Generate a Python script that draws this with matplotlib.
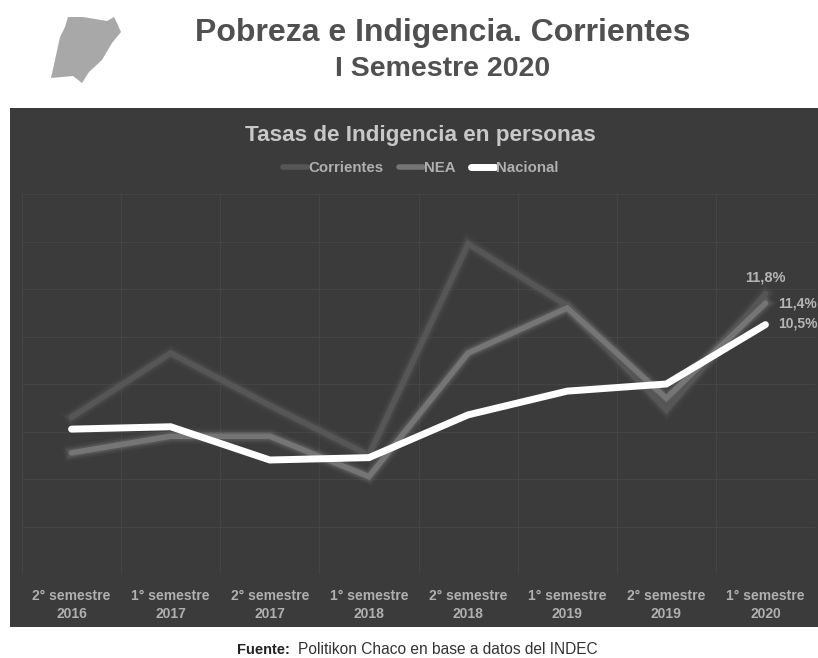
import matplotlib
matplotlib.use('Agg')
import matplotlib.pyplot as plt

plt.rcParams['font.family'] = ['Liberation Sans', 'DejaVu Sans']

W, H = 818, 658

categories = ['2° semestre\n2016', '1° semestre\n2017', '2° semestre\n2017', '1° semestre\n2018',
              '2° semestre\n2018', '1° semestre\n2019', '2° semestre\n2019', '1° semestre\n2020']
corrientes = [6.6, 9.3, 7.1, 5.0, 13.9, 11.3, 6.9, 11.8]
nea = [5.1, 5.8, 5.8, 4.1, 9.3, 11.2, 7.4, 11.4]
nacional = [6.1, 6.2, 4.8, 4.9, 6.7, 7.7, 8.0, 10.5]
y_ticks = [0, 2, 4, 6, 8, 10, 12, 14, 16]


def px_axes(fig, x0, y0, x1, y1):
    # pixel box, y measured from the top
    return fig.add_axes([x0 / W, 1 - y1 / H, (x1 - x0) / W, (y1 - y0) / H])


fig = plt.figure(figsize=(W / 100, H / 100), dpi=100, facecolor='white')

# panel oscuro
panel = px_axes(fig, 10, 108, 818, 627)
panel.set_facecolor('#3b3b3b')
panel.set_xticks([])
panel.set_yticks([])
for s in panel.spines.values():
    s.set_visible(False)

# silueta de la provincia
mapa = px_axes(fig, 0, 0, W, H)
mapa.set_xlim(0, W)
mapa.set_ylim(H, 0)
mapa.axis('off')
mapa.fill([68, 83, 107, 114, 117, 121, 112, 102, 89, 82, 73, 51, 55, 60, 65],
          [17, 17, 21, 17, 23, 32, 43, 60, 72, 83, 76, 78, 60, 37, 27],
          color='#a8a8a8', lw=0)

# grafico
ax = px_axes(fig, 22, 194, 815, 574)
ax.patch.set_alpha(0)
ax.set_xlim(-0.5, 7.5)
ax.set_ylim(0, 16)
x = list(range(len(categories)))

ax.set_yticks(y_ticks)
ax.set_xticks([i - 0.5 for i in x] + [7.5])
ax.grid(True, color='#444444', lw=0.8)
ax.set_axisbelow(True)
ax.tick_params(length=0, labelleft=False, labelbottom=False)
for s in ax.spines.values():
    s.set_visible(False)

# glow
for vals, col in [(corrientes, '#5a5a5a'), (nea, '#787878')]:
    for extra, a in [(7, 0.10), (4, 0.18), (2, 0.25)]:
        ax.plot(x, vals, color=col, lw=4 + extra, alpha=a, solid_joinstyle='miter')
for vals, col, lw, name in [(corrientes, '#565656', 4, 'Corrientes'), (nea, '#757575', 4, 'NEA'),
                            (nacional, 'white', 5, 'Nacional')]:
    ax.plot(x, vals, color=col, lw=lw, label=name, solid_joinstyle='miter', solid_capstyle='round')

for i, c in enumerate(categories):
    ax.text(i, -0.62, c, ha='center', va='top', color='#b0b0b0', fontsize=10,
            fontweight='bold', linespacing=1.38, clip_on=False)

ax.annotate('11,8%', (7, corrientes[7]), xytext=(0, 7), textcoords='offset points', ha='center',
            va='bottom', color='#b5b5b5', fontsize=10.5, fontweight='bold')
ax.annotate('11,4%', (7, nea[7]), xytext=(9, 0), textcoords='offset points', ha='left',
            va='center', color='#b5b5b5', fontsize=10, fontweight='bold', annotation_clip=False)
ax.annotate('10,5%', (7, nacional[7]), xytext=(9, 1), textcoords='offset points', ha='left',
            va='center', color='#b5b5b5', fontsize=10, fontweight='bold', annotation_clip=False)

leg = ax.legend(loc='center', bbox_to_anchor=(421 / W, 1 - 168 / H), bbox_transform=fig.transFigure,
                ncol=3, frameon=False, fontsize=10.8, handlelength=1.6, handletextpad=0.1,
                columnspacing=1.0, labelcolor='#b0b0b0')
for t in leg.get_texts():
    t.set_fontweight('bold')

# textos
fig.text(443 / W, 1 - 33 / H, 'Pobreza e Indigencia. Corrientes', ha='center', va='center',
         color='#505050', fontsize=23, fontweight='bold')
fig.text(443 / W, 1 - 69 / H, 'I Semestre 2020', ha='center', va='center',
         color='#505050', fontsize=20.5, fontweight='bold')
fig.text(420 / W, 1 - 135 / H, 'Tasas de Indigencia en personas', ha='center', va='center',
         color='#c8c8c8', fontsize=16.2, fontweight='bold')
fig.text(237 / W, 1 - 650 / H, 'Fuente:', ha='left', va='center', color='#222222',
         fontsize=10.5, fontweight='bold')
fig.text(298 / W, 1 - 650 / H, 'Politikon Chaco en base a datos del INDEC', ha='left', va='center',
         color='#333333', fontsize=11.2)

fig.savefig('out.png', dpi=100)
